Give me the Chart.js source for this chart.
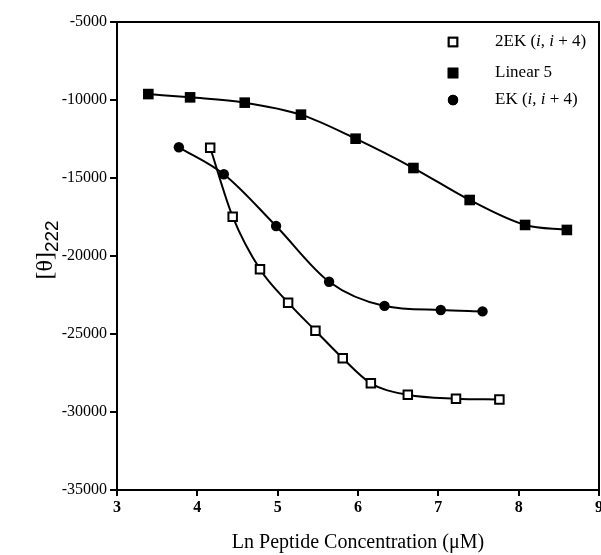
<!DOCTYPE html>
<html>
<head>
<meta charset="utf-8">
<script src="https://cdn.jsdelivr.net/npm/chart.js@4/dist/chart.umd.min.js"></script>
<style>
  html, body { margin: 0; padding: 0; background: #fff; }
  #wrap { width: 601px; height: 555px; }
</style>
</head>
<body>
<div id="wrap"><canvas id="c" width="601" height="555"></canvas></div>
<script>
// ---- data ----
const seriesNames = ['2EK (i, i + 4)', 'Linear 5', 'EK (i, i + 4)'];

const x2EK = [4.16, 4.44, 4.78, 5.13, 5.47, 5.81, 6.16, 6.62, 7.22, 7.76];
const y2EK = [-13060, -17480, -20850, -22990, -24790, -26560, -28160, -28900, -29150, -29200];

const xLinear5 = [3.39, 3.91, 4.59, 5.29, 5.97, 6.69, 7.39, 8.08, 8.60];
const yLinear5 = [-9620, -9830, -10170, -10940, -12480, -14360, -16410, -18010, -18330];

const xEK = [3.77, 4.33, 4.98, 5.64, 6.33, 7.03, 7.55];
const yEK = [-13030, -14760, -18080, -21650, -23200, -23460, -23550];

const xTicks = [3, 4, 5, 6, 7, 8, 9];
const yTicks = [-35000, -30000, -25000, -20000, -15000, -10000, -5000];

const xTitle = 'Ln Peptide Concentration (\u03bcM)';
const yTitleMain = '[\u03b8]';
const yTitleSub = '222';

// ---- build ----
const toPts = (xs, ys) => xs.map((x, i) => ({ x: x, y: ys[i] }));
const SERIF = '"Liberation Serif", "DejaVu Serif", serif';

const styles = [
  { pointStyle: 'rect', radius: 6, bg: '#ffffff', bw: 2 },
  { pointStyle: 'rect', radius: 7.5, bg: '#000000', bw: 0 },
  { pointStyle: 'circle', radius: 5.2, bg: '#000000', bw: 0 }
];
const dataSets = [toPts(x2EK, y2EK), toPts(xLinear5, yLinear5), toPts(xEK, yEK)];

const datasets = dataSets.map((d, i) => ({
  label: seriesNames[i],
  data: d,
  borderColor: '#000',
  borderWidth: 2,
  cubicInterpolationMode: 'monotone',
  pointStyle: styles[i].pointStyle,
  pointRadius: styles[i].radius,
  pointBackgroundColor: styles[i].bg,
  pointBorderColor: '#000',
  pointBorderWidth: styles[i].bw,
  fill: false
}));

function drawRichText(ctx, text, x, y, size) {
  const parts = text.split(/(\bi\b)/);
  let cx = x;
  parts.forEach(p => {
    if (!p) return;
    ctx.font = (p === 'i' ? 'italic ' : '') + size + 'px ' + SERIF;
    ctx.fillText(p, cx, y);
    cx += ctx.measureText(p).width;
  });
}

const decorPlugin = {
  id: 'decor',
  afterDraw(chart) {
    const ctx = chart.ctx;
    const a = chart.chartArea;
    ctx.save();
    ctx.strokeStyle = '#000';
    ctx.lineWidth = 2;
    ctx.strokeRect(a.left, a.top, a.right - a.left, a.bottom - a.top);

    // legend inside plot
    const rows = [42, 73, 100];
    const mx = 453, tx = 495;
    ctx.fillStyle = '#000';
    ctx.textBaseline = 'middle';
    ctx.textAlign = 'left';
    chart.data.datasets.forEach((ds, i) => {
      const y = rows[i];
      Chart.helpers.drawPoint(ctx, {
        pointStyle: ds.pointStyle,
        radius: ds.pointRadius,
        borderWidth: ds.pointBorderWidth
      }, mx, y);
      ctx.fillStyle = ds.pointBackgroundColor;
      ctx.fill();
      if (ds.pointBorderWidth > 0) {
        ctx.lineWidth = ds.pointBorderWidth;
        ctx.strokeStyle = '#000';
        ctx.stroke();
      }
      ctx.fillStyle = '#000';
      drawRichText(ctx, ds.label, tx, y, 17);
    });

    // y title with subscript
    ctx.translate(45, 250);
    ctx.rotate(-Math.PI / 2);
    ctx.textBaseline = 'alphabetic';
    ctx.font = '24px ' + SERIF;
    const w1 = ctx.measureText(yTitleMain).width;
    ctx.font = '19px "Liberation Sans", Arial, sans-serif';
    const w2 = ctx.measureText(yTitleSub).width;
    const start = -(w1 + w2) / 2;
    ctx.font = '24px ' + SERIF;
    ctx.fillText(yTitleMain, start, 7);
    ctx.font = '19px "Liberation Sans", Arial, sans-serif';
    ctx.fillText(yTitleSub, start + w1, 13);
    ctx.restore();
  }
};

new Chart(document.getElementById('c'), {
  type: 'line',
  data: { datasets: datasets },
  plugins: [decorPlugin],
  options: {
    responsive: false,
    animation: false,
    events: [],
    layout: { autoPadding: false, padding: { top: 22, right: 2, left: 0, bottom: 0 } },
    plugins: { legend: { display: false }, tooltip: { enabled: false } },
    scales: {
      x: {
        type: 'linear',
        min: 3, max: 9,
        afterBuildTicks(s) { s.ticks = xTicks.map(v => ({ value: v })); },
        afterFit(s) { s.height = 65; s.paddingLeft = 0; s.paddingRight = 0; },
        grid: { display: true, drawOnChartArea: false, drawTicks: true, tickLength: 6, color: '#000', lineWidth: 2 },
        border: { display: true, color: '#000', width: 2 },
        ticks: {
          color: '#000', padding: 2, maxRotation: 0, autoSkip: false,
          font: { family: SERIF, size: 16, weight: 'bold' },
          callback: v => String(v)
        },
        title: {
          display: true, text: xTitle, color: '#000',
          font: { family: SERIF, size: 20 }, padding: { top: 0, bottom: 0 }
        }
      },
      y: {
        type: 'linear',
        min: -35000, max: -5000,
        afterBuildTicks(s) { s.ticks = yTicks.map(v => ({ value: v })); },
        afterFit(s) { s.width = 117; s.paddingTop = 0; s.paddingBottom = 0; s.paddingLeft = 0; s.paddingRight = 0; },
        grid: { display: true, drawOnChartArea: false, drawTicks: true, tickLength: 7, color: '#000', lineWidth: 2 },
        border: { display: true, color: '#000', width: 2 },
        ticks: {
          color: '#000', padding: 3, autoSkip: false,
          font: { family: SERIF, size: 16 },
          callback: v => String(v)
        }
      }
    }
  }
});
</script>
</body>
</html>
